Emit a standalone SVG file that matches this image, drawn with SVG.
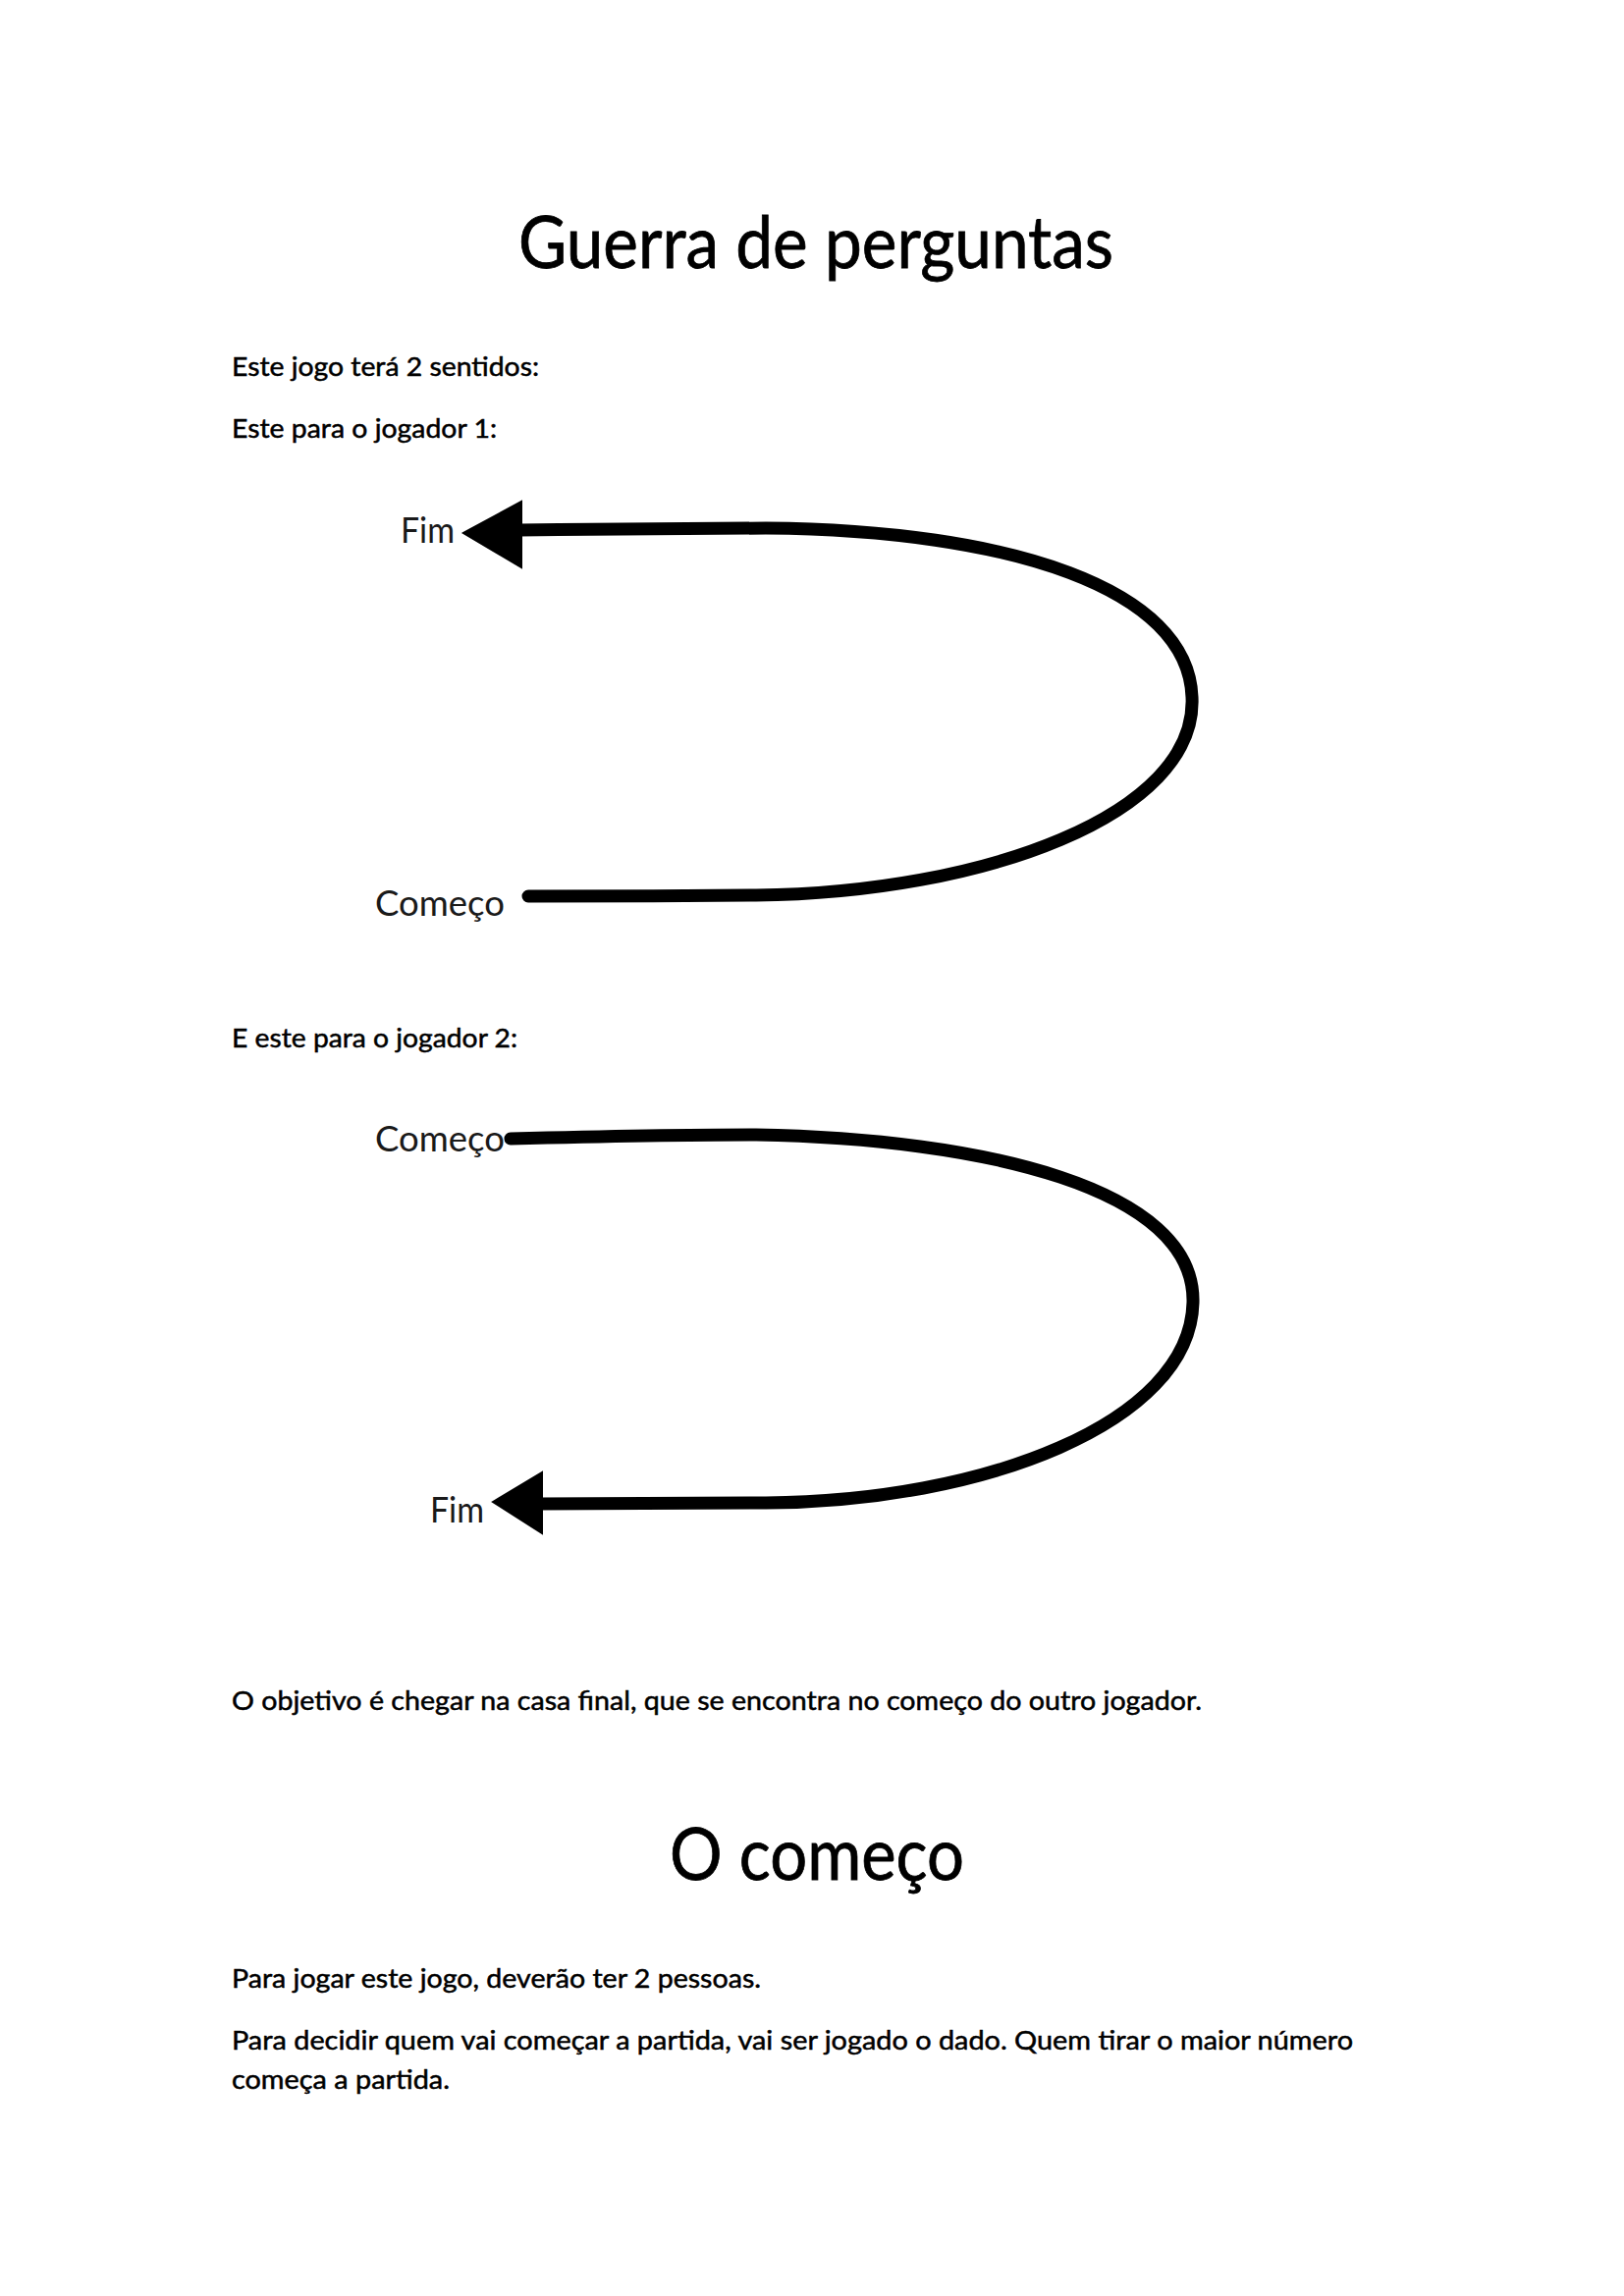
<svg xmlns="http://www.w3.org/2000/svg" width="1654" height="2339" viewBox="0 0 1654 2339">
<style>
  text { font-family: Lato, "Open Sans", "Liberation Sans", sans-serif; fill: #000; }
  .h1 { font-size: 74px; stroke: #000; stroke-width: 0.8; }
  .body { font-size: 27.5px; stroke: #000; stroke-width: 0.5; }
  .lbl { font-size: 37px; fill: #1a1a1a; }
  .curve { fill: none; stroke: #000; stroke-width: 13; stroke-linecap: round; stroke-linejoin: round; }
  .head { fill: #000; stroke: #000; stroke-width: 2; stroke-linejoin: miter; }
</style>
<rect x="0" y="0" width="1654" height="2339" fill="#fff"/>

<g id="title">
  <text class="h1" x="528" y="273" textLength="606" lengthAdjust="spacingAndGlyphs">Guerra de perguntas</text>
</g>
<g id="intro">
  <text class="body" x="236" y="383" textLength="313" lengthAdjust="spacingAndGlyphs">Este jogo terá 2 sentidos:</text>
  <text class="body" x="236" y="446" textLength="270" lengthAdjust="spacingAndGlyphs">Este para o jogador 1:</text>
</g>

<g id="p1-fim">
  <text class="lbl" x="408" y="553" textLength="55" lengthAdjust="spacingAndGlyphs">Fim</text>
</g>
<g id="p1-comeco">
  <text class="lbl" x="382" y="933" textLength="132" lengthAdjust="spacingAndGlyphs">Começo</text>
</g>

<g id="intro2">
  <text class="body" x="236" y="1067" textLength="291" lengthAdjust="spacingAndGlyphs">E este para o jogador 2:</text>
</g>

<g id="p2-comeco">
  <text class="lbl" x="382" y="1173" textLength="132" lengthAdjust="spacingAndGlyphs">Começo</text>
</g>
<g id="p2-fim">
  <text class="lbl" x="438" y="1551" textLength="55" lengthAdjust="spacingAndGlyphs">Fim</text>
</g>

<g id="connectors">
  <path class="curve" d="M 538 913 C 620 913, 690 913, 770 912 C 1000 910, 1220 830, 1214 710 C 1210 600, 1030 540, 780 538 C 690 538, 610 539, 528 540"/>
  <polygon class="head" points="472,543 531,511 531,578"/>
  <path class="curve" d="M 520 1160 C 600 1158, 690 1156, 770 1156 C 1000 1160, 1218 1210, 1215 1327 C 1212 1450, 1000 1530, 780 1531 C 700 1531, 620 1532, 548 1532"/>
  <polygon class="head" points="502,1530 552,1500 552,1562"/>
</g>

<g id="objective">
  <text class="body" x="236" y="1742" textLength="988" lengthAdjust="spacingAndGlyphs">O objetivo é chegar na casa final, que se encontra no começo do outro jogador.</text>
</g>

<g id="heading2">
  <text class="h1" x="682" y="1915" textLength="300" lengthAdjust="spacingAndGlyphs">O começo</text>
</g>

<g id="rules">
  <text class="body" x="236" y="2025" textLength="539" lengthAdjust="spacingAndGlyphs">Para jogar este jogo, deverão ter 2 pessoas.</text>
  <text class="body" x="236" y="2088" textLength="1142" lengthAdjust="spacingAndGlyphs">Para decidir quem vai começar a partida, vai ser jogado o dado. Quem tirar o maior número</text>
  <text class="body" x="236" y="2128" textLength="222" lengthAdjust="spacingAndGlyphs">começa a partida.</text>
</g>
</svg>
